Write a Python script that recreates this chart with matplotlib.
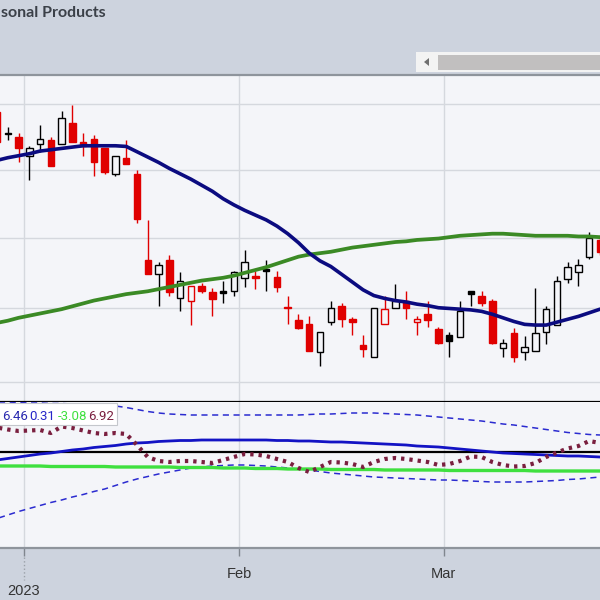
import matplotlib
matplotlib.use("Agg")
import matplotlib.pyplot as plt
from matplotlib.patches import Rectangle, Polygon
from matplotlib.ticker import NullLocator, FixedLocator

# trading days shown, 28 Dec 2022 .. 21 Mar 2023
dates = ["2022-12-28", "2022-12-29", "2022-12-30",
         "2023-01-03", "2023-01-04", "2023-01-05", "2023-01-06", "2023-01-09",
         "2023-01-10", "2023-01-11", "2023-01-12", "2023-01-13", "2023-01-17",
         "2023-01-18", "2023-01-19", "2023-01-20", "2023-01-23", "2023-01-24",
         "2023-01-25", "2023-01-26", "2023-01-27", "2023-01-30", "2023-01-31",
         "2023-02-01", "2023-02-02", "2023-02-03", "2023-02-06", "2023-02-07",
         "2023-02-08", "2023-02-09", "2023-02-10", "2023-02-13", "2023-02-14",
         "2023-02-15", "2023-02-16", "2023-02-17", "2023-02-21", "2023-02-22",
         "2023-02-23", "2023-02-24", "2023-02-27", "2023-02-28",
         "2023-03-01", "2023-03-02", "2023-03-03", "2023-03-06", "2023-03-07",
         "2023-03-08", "2023-03-09", "2023-03-10", "2023-03-13", "2023-03-14",
         "2023-03-15", "2023-03-16", "2023-03-17", "2023-03-20", "2023-03-21"]

opens = [29.88, 29.56, 29.50, 29.20, 29.39, 29.44, 29.38, 29.70, 29.42, 29.47,
         29.33, 28.93, 29.17, 28.94, 27.68, 27.48, 27.68, 27.15, 27.10, 27.32,
         27.23, 27.24, 27.25, 27.42, 27.45, 27.56, 27.44, 27.02, 26.84, 26.79,
         26.40, 26.81, 27.04, 26.86, 26.49, 26.33, 26.79, 27.00, 27.10, 26.81,
         26.93, 26.71, 26.63, 26.60, 27.25, 27.17, 27.10, 26.45, 26.66, 26.40,
         26.42, 26.67, 26.77, 27.41, 27.51, 27.72, 27.97]
highs = [29.98, 29.65, 29.56, 29.35, 29.68, 29.50, 29.89, 29.98, 29.56, 29.53,
         29.33, 29.21, 29.44, 29.00, 28.26, 27.65, 27.76, 27.51, 27.31, 27.35,
         27.28, 27.39, 27.52, 27.83, 27.52, 27.68, 27.52, 27.17, 26.92, 26.89,
         26.67, 27.10, 27.07, 26.88, 26.64, 27.01, 27.18, 27.34, 27.24, 26.90,
         27.11, 26.74, 26.68, 27.10, 27.25, 27.24, 27.13, 26.58, 26.73, 26.62,
         27.28, 27.04, 27.45, 27.65, 27.70, 28.09, 28.04]
lows = [29.38, 29.44, 29.11, 28.84, 29.27, 29.05, 29.38, 29.41, 29.20, 28.90,
        28.93, 28.91, 29.08, 28.22, 27.49, 27.04, 27.17, 26.97, 26.77, 27.21,
        26.89, 27.08, 27.17, 27.30, 27.27, 27.24, 27.23, 26.78, 26.71, 26.41,
        26.21, 26.77, 26.75, 26.64, 26.34, 26.33, 26.79, 27.00, 26.85, 26.64,
        26.74, 26.51, 26.34, 26.60, 27.03, 27.03, 26.51, 26.34, 26.26, 26.29,
        26.42, 26.51, 26.77, 27.35, 27.31, 27.69, 27.76]
closes = [29.42, 29.54, 29.32, 29.33, 29.47, 29.05, 29.79, 29.41, 29.36, 29.12,
          28.96, 29.20, 29.08, 28.28, 27.49, 27.61, 27.23, 27.38, 27.31, 27.24,
          27.13, 27.21, 27.51, 27.65, 27.42, 27.52, 27.30, 27.00, 26.73, 26.41,
          26.67, 27.01, 26.86, 26.81, 26.44, 27.01, 26.99, 27.10, 27.01, 26.86,
          26.84, 26.52, 26.55, 26.96, 27.20, 27.07, 26.52, 26.53, 26.33, 26.47,
          26.66, 26.99, 27.38, 27.58, 27.61, 28.00, 27.80]
close_before = 29.90  # close of 27 Dec, decides the colour of the first candle

sma20 = [29.14, 29.18, 29.21, 29.24, 29.28, 29.30, 29.32, 29.34, 29.36, 29.36,
         29.36, 29.36, 29.35, 29.27, 29.19, 29.11, 29.02, 28.94, 28.86, 28.77,
         28.68, 28.57, 28.48, 28.40, 28.33, 28.26, 28.17, 28.06, 27.93, 27.78,
         27.67, 27.59, 27.48, 27.37, 27.26, 27.18, 27.14, 27.11, 27.09, 27.06,
         27.04, 27.01, 27.00, 26.99, 26.98, 26.96, 26.92, 26.87, 26.82, 26.78,
         26.77, 26.77, 26.81, 26.85, 26.89, 26.94, 26.99]
sma50 = [26.80, 26.83, 26.87, 26.90, 26.93, 26.96, 26.99, 27.03, 27.07, 27.11,
         27.14, 27.17, 27.20, 27.22, 27.24, 27.27, 27.30, 27.33, 27.36, 27.39,
         27.41, 27.43, 27.46, 27.50, 27.54, 27.58, 27.63, 27.68, 27.73, 27.76,
         27.78, 27.80, 27.83, 27.86, 27.88, 27.90, 27.92, 27.94, 27.95, 27.97,
         27.98, 27.99, 28.01, 28.03, 28.04, 28.05, 28.06, 28.06, 28.05, 28.04,
         28.03, 28.03, 28.03, 28.03, 28.02, 28.02, 28.01]

# lower indicator panel
band_upper = [10.0, 10.0, 9.9, 9.8, 9.8, 9.7, 9.7, 9.6, 9.6, 9.5,
              9.4, 9.2, 8.9, 8.5, 8.1, 7.8, 7.6, 7.5, 7.4, 7.4,
              7.4, 7.4, 7.4, 7.4, 7.4, 7.4, 7.4, 7.4, 7.4, 7.5,
              7.6, 7.6, 7.7, 7.8, 7.8, 7.8, 7.7, 7.6, 7.5, 7.4,
              7.2, 7.0, 6.8, 6.6, 6.4, 6.2, 5.9, 5.6, 5.4, 5.1,
              4.8, 4.5, 4.2, 3.9, 3.7, 3.5, 3.4]
band_lower = [-13.3, -12.6, -11.9, -11.3, -10.7, -10.1, -9.6, -9.0, -8.5, -7.9,
              -7.4, -6.7, -6.0, -5.4, -4.9, -4.4, -4.0, -3.6, -3.2, -3.0,
              -2.8, -2.7, -2.6, -2.6, -2.7, -2.8, -3.0, -3.2, -3.4, -3.6,
              -3.9, -4.2, -4.4, -4.6, -4.8, -5.0, -5.1, -5.2, -5.3, -5.4,
              -5.5, -5.6, -5.6, -5.7, -5.8, -5.9, -6.0, -6.0, -6.0, -6.0,
              -5.9, -5.8, -5.7, -5.5, -5.4, -5.2, -5.0]
line_blue = [-1.6, -1.3, -1.0, -0.7, -0.4, -0.2, 0.1, 0.4, 0.6, 0.9,
             1.1, 1.3, 1.6, 1.8, 1.9, 2.1, 2.2, 2.3, 2.3, 2.4,
             2.4, 2.4, 2.4, 2.4, 2.4, 2.4, 2.3, 2.3, 2.2, 2.2,
             2.1, 2.0, 2.0, 1.9, 1.8, 1.7, 1.6, 1.5, 1.4, 1.2,
             1.1, 1.0, 0.8, 0.6, 0.4, 0.2, 0.0, -0.2, -0.3, -0.4,
             -0.5, -0.6, -0.7, -0.8, -0.8, -0.9, -1.0]
line_green = [-2.8, -2.8, -2.8, -2.8, -2.8, -2.9, -2.9, -2.9, -2.9, -2.9,
              -2.9, -3.0, -3.0, -3.0, -3.0, -3.0, -3.0, -3.1, -3.1, -3.1,
              -3.1, -3.2, -3.2, -3.2, -3.3, -3.3, -3.3, -3.4, -3.4, -3.4,
              -3.4, -3.5, -3.5, -3.5, -3.5, -3.5, -3.6, -3.6, -3.6, -3.6,
              -3.6, -3.6, -3.7, -3.7, -3.7, -3.7, -3.7, -3.7, -3.7, -3.7,
              -3.8, -3.8, -3.8, -3.8, -3.8, -3.8, -3.8]
line_dotted = [4.9, 4.5, 4.2, 4.3, 4.4, 3.8, 5.1, 4.8, 4.3, 3.8,
               3.6, 3.8, 3.6, 1.4, -1.0, -1.8, -2.0, -1.8, -1.8, -2.0,
               -2.2, -1.6, -1.0, -0.4, -0.5, -0.8, -1.4, -2.0, -3.2, -4.0,
               -3.0, -2.0, -2.1, -2.4, -3.0, -2.0, -1.4, -1.2, -1.4, -1.7,
               -2.0, -2.6, -2.4, -1.8, -0.9, -1.0, -2.0, -2.6, -2.9, -2.8,
               -2.2, -1.0, -0.1, 0.7, 1.2, 2.2, 1.8]
legend_values = ["6.46", "0.31", "-3.08", "6.92"]
legend_colors = ["#2b2bb0", "#2626c8", "#3fe03f", "#7a1f3f"]

title = "sonal Products"
price_grid = [26, 27, 28, 29, 30]

BAND = "#cdd3de"
PANEL = "#f4f5f9"
GRID = "#d5d8de"
RED = "#e00000"

fig = plt.figure(figsize=(6, 6), dpi=100, facecolor=BAND)


def fx(px):
    return px / 600.0


def fy(py):
    return 1 - py / 600.0


ax = fig.add_axes([0, fy(402), 1, 327 / 600.0], facecolor=PANEL)
ax2 = fig.add_axes([0, fy(548), 1, 146 / 600.0], facecolor=PANEL, sharex=ax)

xs = list(range(len(dates)))

# month boundaries -> tick positions
ticks, labels = [], []
for i in range(1, len(dates)):
    if dates[i][5:7] != dates[i - 1][5:7]:
        ticks.append(i - 0.5)
        m = dates[i][5:7]
        labels.append({"01": "2023", "02": "Feb", "03": "Mar"}[m])

# candles
prev = [close_before] + closes[:-1]
for i in xs:
    o, h, l, c = opens[i], highs[i], lows[i], closes[i]
    col = RED if c < prev[i] else "black"
    hollow = c > o
    ax.vlines(i, l, h, color=col, lw=1.0, zorder=2)
    lo, hi = min(o, c), max(o, c)
    if hi - lo < 0.015:
        lo, hi = (lo + hi) / 2 - 0.008, (lo + hi) / 2 + 0.008
    ax.bar(i, hi - lo, bottom=lo, width=0.6,
           color=PANEL if hollow else col, edgecolor=col, lw=1.0, zorder=3)

ax.plot(xs, sma50, color="#3b8a25", lw=2.7, zorder=4, solid_capstyle="round")
ax.plot(xs, sma20, color="#0b0b80", lw=2.6, zorder=5, solid_capstyle="round")

ax.set_yscale("log")
ax.set_ylim(25.73, 30.45)
ax.yaxis.set_major_locator(FixedLocator(price_grid))
ax.yaxis.set_minor_locator(NullLocator())
ax.set_xlim(0.28, 56.0)
ax.set_xticks(ticks)
ax.grid(True, color=GRID, lw=1.0, zorder=0)
ax.set_axisbelow(True)
ax.tick_params(axis="both", length=0, labelleft=False, labelbottom=False)
for s in ["left", "right"]:
    ax.spines[s].set_visible(False)
ax.spines["top"].set_color("#8e949c")
ax.spines["top"].set_linewidth(1.6)
ax.spines["bottom"].set_color("black")
ax.spines["bottom"].set_linewidth(1.6)

# lower panel
ax2.plot(xs, band_upper, color="#2b2bd0", lw=1.1, dashes=(4, 3), zorder=3)
ax2.plot(xs, band_lower, color="#2b2bd0", lw=1.1, dashes=(4, 3), zorder=3)
ax2.plot(xs, line_green, color="#3fe03f", lw=2.4, zorder=3)
ax2.plot(xs, line_blue, color="#1313c4", lw=2.0, zorder=4)
ax2.plot(xs, line_dotted, color="#7a1f3f", lw=3.0, ls=(0, (0.8, 1.2)), zorder=5)
ax2.axhline(0, color="black", lw=1.6, zorder=2)
ax2.set_ylim(-19.2, 10.0)
ax2.set_yticks([])
ax2.grid(True, axis="x", color=GRID, lw=1.0, zorder=0)
ax2.set_axisbelow(True)
for s in ["left", "right", "top"]:
    ax2.spines[s].set_visible(False)
ax2.spines["bottom"].set_color("#8e949c")
ax2.spines["bottom"].set_linewidth(1.6)
ax2.set_xticks(ticks)
ax2.set_xticklabels(["" if t == "2023" else t for t in labels],
                    fontsize=10.5, color="#333333", family="Liberation Sans")
ax2.tick_params(axis="x", length=6, width=1, color="#80868e", pad=8)

trans = ax2.get_xaxis_transform()
for t, lab in zip(ticks, labels):
    if lab == "2023":
        ax2.plot([t, t], [-0.06, -0.22], transform=trans, clip_on=False,
                 color="#9aa0a8", lw=1, ls=":")
        ax2.text(t, -0.295, lab, transform=trans, ha="center", va="center",
                 fontsize=10.5, color="#333333", family="Liberation Sans")

# legend box of the lower panel
fig.patches.append(Rectangle((fx(-2), fy(425)), 119 / 600.0, 22 / 600.0,
                             transform=fig.transFigure, facecolor="white",
                             edgecolor="#c4c7cc", lw=0.8, zorder=10))
leg_x = [2, 29, 58, 88]
for k, (txt, col) in enumerate(zip(legend_values, legend_colors)):
    fig.text(fx(leg_x[k]), fy(420), txt, color=col, fontsize=9.5,
             family="Roboto", ha="left", va="baseline", zorder=11)

# header: title and scroll bar
fig.text(fx(1), fy(17), title, fontsize=11.5, family="Lato", weight="bold",
         color="#3b4048", ha="left", va="baseline")
fig.patches.append(Rectangle((fx(416), fy(72)), 184 / 600.0, 20 / 600.0,
                             transform=fig.transFigure, facecolor="#f3f3f3",
                             edgecolor="none"))
fig.patches.append(Rectangle((fx(438), fy(70)), 162 / 600.0, 15 / 600.0,
                             transform=fig.transFigure, facecolor="#c1bfbf",
                             edgecolor="none"))
fig.patches.append(Polygon([(fx(424), fy(62)), (fx(429), fy(58)), (fx(429), fy(66))],
                           closed=True, transform=fig.transFigure,
                           facecolor="#707070", edgecolor="none"))

fig.savefig("out.png", dpi=100, facecolor=BAND)
